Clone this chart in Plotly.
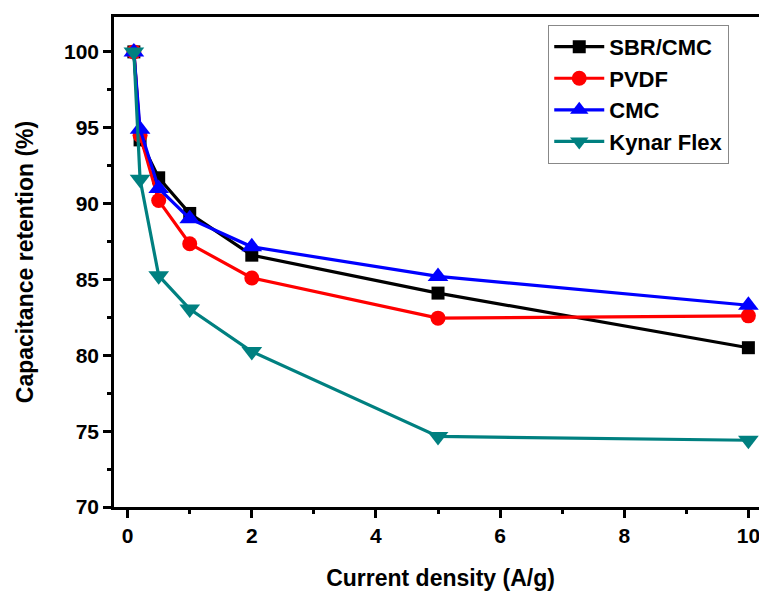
import plotly.graph_objects as go

x_vals = [0.1, 0.2, 0.5, 1, 2, 5, 10]
sbr_cmc = [100, 94.2, 91.7, 89.35, 86.6, 84.1, 80.5]
pvdf = [100, 94.5, 90.2, 87.35, 85.1, 82.45, 82.6]
cmc = [100, 94.9, 91.0, 89.0, 87.15, 85.2, 83.3]
kynar = [100, 91.6, 85.25, 83.05, 80.25, 74.65, 74.4]

series = [
    ("SBR/CMC", sbr_cmc, "#000000", "square", 13),
    ("PVDF", pvdf, "#ff0000", "circle", 15),
    ("CMC", cmc, "#0000ff", "triangle-up", 18),
    ("Kynar Flex", kynar, "#008080", "triangle-down", 18),
]

fig = go.Figure()
for name, vals, color, sym, msize in series:
    fig.add_trace(go.Scatter(
        x=x_vals, y=vals, name=name, mode="lines+markers",
        line=dict(color=color, width=3.2),
        marker=dict(symbol=sym, size=msize, color=color),
    ))

font_family = "Arial, Liberation Sans, sans-serif"
fig.update_layout(
    width=767, height=597,
    margin=dict(l=106, r=8, t=9, b=98),
    paper_bgcolor="white", plot_bgcolor="white",
    font=dict(family=font_family, size=20, color="black"),
    showlegend=True,
    legend=dict(
        x=0.665, y=0.984, xanchor="left", yanchor="top",
        bgcolor="white", bordercolor="#888888", borderwidth=1,
        font=dict(family=font_family, size=22, color="black", weight="bold"),
        itemwidth=50, tracegroupgap=0,
    ),
    xaxis=dict(
        range=[-0.22, 10.3], dtick=2, tick0=0, automargin=False,
        showgrid=False, zeroline=False,
        showline=True, linecolor="black", linewidth=2.5, mirror=True,
        ticks="outside", ticklen=8, tickwidth=2.5, tickcolor="black",
        minor=dict(dtick=1, ticks="outside", ticklen=4, tickwidth=2.5, tickcolor="black"),
        tickfont=dict(family=font_family, size=21, weight="bold"),
        title=dict(text="Current density (A/g)", standoff=24,
                   font=dict(family=font_family, size=23, weight="bold")),
    ),
    yaxis=dict(
        range=[70, 102.3], dtick=5, tick0=70, automargin=False,
        showgrid=False, zeroline=False,
        showline=True, linecolor="black", linewidth=2.5, mirror=True,
        ticks="outside", ticklen=8, tickwidth=2.5, tickcolor="black",
        minor=dict(dtick=2.5, ticks="outside", ticklen=4, tickwidth=2.5, tickcolor="black"),
        tickfont=dict(family=font_family, size=21, weight="bold"),
        title=dict(text="Capacitance retention (%)", standoff=24,
                   font=dict(family=font_family, size=23, weight="bold")),
    ),
)

fig.write_html("out.html")
